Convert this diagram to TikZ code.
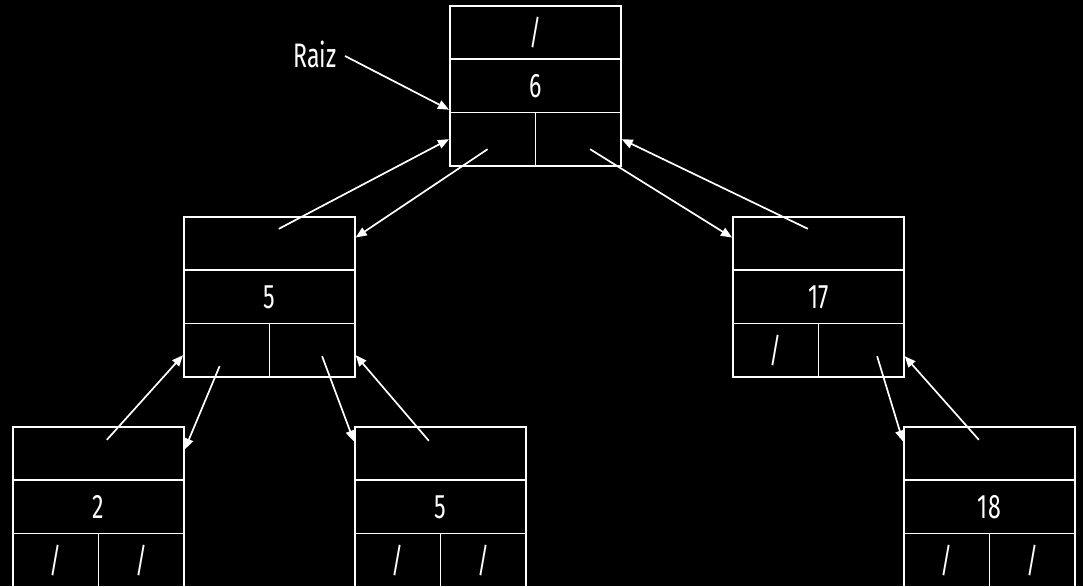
\documentclass[tikz,border=0pt]{standalone}
\usepackage{fontspec}
\setmainfont{Fira Sans}[FakeStretch=0.68]
\usetikzlibrary{arrows.meta,calc}
\newcommand\rec[7]{%
  \node[cell] (#1-t) at (#2,#3) {#4};
  \node[cell] (#1-m) at (#2,#3+53.33) {#5};
  \node[half] (#1-l) at (#2,#3+106.67) {#6};
  \node[half] (#1-r) at (#2+85.5,#3+106.67) {#7};
}
\begin{document}
\begin{tikzpicture}[x=1pt,y=-1pt,
  txt/.style={text=white, font=\fontsize{34}{34}\selectfont},
  cell/.style={txt, draw=white, line width=1.7pt, minimum width=171pt, minimum height=53.33pt, inner sep=0pt, anchor=north west},
  half/.style={cell, minimum width=85.5pt},
  link/.style={draw=white, line width=1.7pt, -{Triangle[length=11pt,width=9pt]}}]
\fill[black] (0,0) rectangle (1083,586);
\useasboundingbox (0,0) rectangle (1083,586);
\rec{r}{449}{5}{/}{6}{}{}
\rec{a}{183}{216}{}{5}{}{}
\rec{b}{732}{216}{}{17}{/}{}
\rec{c}{12}{426}{}{2}{/}{/}
\rec{d}{354}{426}{}{5}{/}{/}
\rec{e}{903}{426}{}{18}{/}{/}
\node[txt] (raiz) at (315,54) {Raiz};
\draw[link] ($(raiz.east)+(5,2)$) -- ($(r-l.north west)+(0,-2)$);
\draw[link] ($(a-t.center)+(9.5,-14.7)$) -- (r-l.west);
\draw[link] ($(r-l.center)+(-5,10)$) -- ($(a-t.east)+(0,-6)$);
\draw[link] ($(r-r.center)+(12,10)$) -- ($(b-t.west)+(0,-6)$);
\draw[link] ($(b-t.center)+(-10.5,-14.7)$) -- (r-r.east);
\draw[link] ($(c-t.center)+(8.5,-13.7)$) -- ($(a-l.west)+(0,5)$);
\draw[link] ($(a-l.center)+(-7,16)$) -- ($(c-t.east)+(0,-4)$);
\draw[link] ($(a-r.center)+(10,6)$) -- ($(d-t.west)+(0,-12)$);
\draw[link] ($(d-t.center)+(-11.5,-12.7)$) -- ($(a-r.east)+(0,5)$);
\draw[link] ($(b-r.center)+(16,6)$) -- ($(e-t.west)+(0,-12)$);
\draw[link] ($(e-t.center)+(-10.5,-13.7)$) -- ($(b-r.east)+(0,6)$);
\end{tikzpicture}
\end{document}
